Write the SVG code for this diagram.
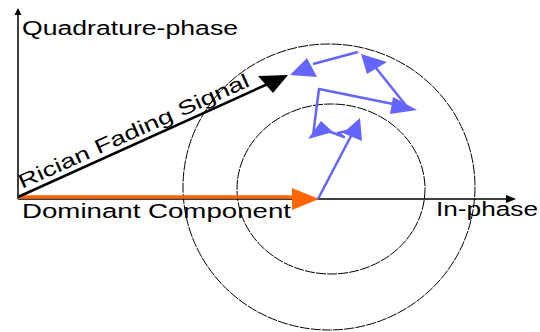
<svg xmlns="http://www.w3.org/2000/svg" width="540" height="332" viewBox="0 0 540 332">
  <style>
    .lbl { font-family: "Liberation Sans", Arial, sans-serif; font-size: 20px; fill: #000; }
    .ring { fill: none; stroke: #000; stroke-width: 1; stroke-dasharray: 10 1.2; }
    .axis { stroke: #000; stroke-width: 1.5; fill: none; }
    .blue { stroke: #6464ff; stroke-width: 2.5; fill: none; stroke-linejoin: round; }
    .bluehead { fill: #6464ff; }
  </style>
  <rect width="540" height="332" fill="#fff"/>
  <g id="circles">
    <ellipse class="ring" cx="329" cy="187" rx="146" ry="143"/>
    <ellipse class="ring" cx="331" cy="189" rx="94" ry="85"/>
  </g>
  <g id="axes">
    <line class="axis" x1="18" y1="199" x2="508" y2="199"/>
    <polygon points="516,199 506,195 506,203" fill="#000"/>
    <line class="axis" x1="18" y1="199" x2="18" y2="14"/>
    <polygon points="18,8 14.5,15 21.5,15" fill="#000"/>
    <text class="lbl" x="22" y="35" textLength="216" lengthAdjust="spacingAndGlyphs">Quadrature-phase</text>
    <text class="lbl" x="436" y="216" textLength="102" lengthAdjust="spacingAndGlyphs">In-phase</text>
  </g>
  <g id="connectors">
    <g id="dominant">
      <line x1="18" y1="197" x2="296" y2="197" stroke="#ff6600" stroke-width="3.5"/>
      <polygon points="319,199 292,188 292,210" fill="#ff6600"/>
      <text class="lbl" x="22" y="218" textLength="269" lengthAdjust="spacingAndGlyphs">Dominant Component</text>
    </g>
    <g id="rician">
      <line x1="18" y1="197" x2="270" y2="83" stroke="#000" stroke-width="2.5"/>
      <polygon points="288,75 258,76 273,93" fill="#000"/>
      <text class="lbl" transform="translate(22,189) rotate(-24.3)" textLength="251" lengthAdjust="spacingAndGlyphs">Rician Fading Signal</text>
    </g>
    <g id="scatter">
      <line class="blue" x1="318" y1="199" x2="352" y2="134"/>
      <polygon class="bluehead" points="360,118 343,133 362,141"/>
      <polyline class="blue" points="351,130 338,133 344,137 328,131"/>
      <polygon class="bluehead" points="321,121 308,139 333,132"/>
      <polyline class="blue" points="313,136 316,112 319,89 398,105"/>
      <polygon class="bluehead" points="417,110 393,97 390,114"/>
      <line class="blue" x1="408" y1="108" x2="376" y2="68"/>
      <polygon class="bluehead" points="361,54 387,62 367,74"/>
      <line class="blue" x1="358" y1="52" x2="313" y2="64"/>
      <polygon class="bluehead" points="290,75 307,58 317,77"/>
    </g>
  </g>
</svg>
